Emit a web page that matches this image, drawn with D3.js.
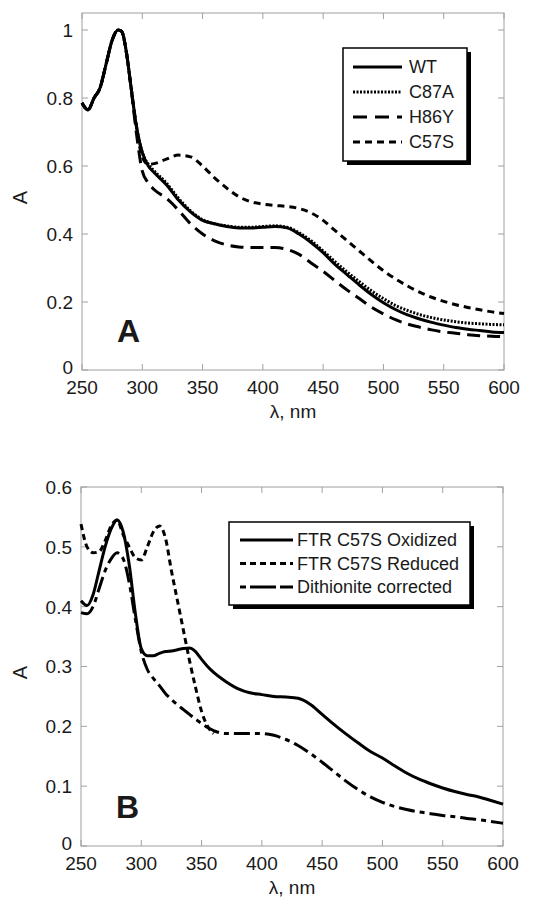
<!DOCTYPE html>
<html lang="en">
  <head>
    <meta charset="UTF-8" />
    <title>FTR spectra</title>
    <script src="https://cdn.jsdelivr.net/npm/d3@7/dist/d3.min.js"></script>
    <style>
      body { margin: 0; background: #fff; }
      text { font-family: "Liberation Sans", Arial, sans-serif; fill: #1a1a1a; }
      .frame { fill: none; stroke: #a0a0a0; stroke-width: 1; }
      .tick { stroke: #a0a0a0; stroke-width: 1; }
      .curve { fill: none; stroke: #000; stroke-width: 3; stroke-linejoin: round; }
    </style>
  </head>
  <body>
    <svg id="chart" width="541" height="900"></svg>
  <script>
    // ---- panel A data (wavelength nm, absorbance) ----
    const waveA = [250, 255, 260, 265, 270, 275, 280, 283, 287, 290, 295, 300, 305, 310, 320, 330, 340, 350, 360, 370,
      380, 390, 400, 410, 420, 430, 440, 450, 460, 470, 480, 490, 500, 510, 520, 530, 540, 550, 560, 570, 580, 590, 600];
    const wtA = [0.785, 0.765, 0.8, 0.83, 0.9, 0.97, 1.0, 0.995, 0.93, 0.85, 0.72, 0.64, 0.6, 0.58, 0.545, 0.5, 0.465, 0.44, 0.43, 0.422,
      0.418, 0.418, 0.42, 0.422, 0.418, 0.4, 0.375, 0.345, 0.31, 0.28, 0.25, 0.222, 0.198, 0.178, 0.162, 0.15, 0.14, 0.132, 0.125, 0.12, 0.116, 0.112, 0.11];
    const c87aA = [0.785, 0.765, 0.8, 0.83, 0.9, 0.97, 1.0, 0.995, 0.93, 0.85, 0.72, 0.64, 0.605, 0.585, 0.55, 0.505, 0.468, 0.442, 0.43, 0.424,
      0.42, 0.42, 0.422, 0.424, 0.42, 0.404, 0.38, 0.35, 0.318, 0.288, 0.26, 0.233, 0.21, 0.19, 0.175, 0.163, 0.154, 0.147, 0.142, 0.138, 0.136, 0.134, 0.133];
    const h86yA = [0.785, 0.765, 0.8, 0.83, 0.9, 0.97, 1.0, 0.995, 0.93, 0.85, 0.7, 0.585, 0.55, 0.53, 0.505, 0.47, 0.43, 0.4, 0.38, 0.368,
      0.362, 0.36, 0.36, 0.36, 0.355, 0.34, 0.315, 0.29, 0.262, 0.235, 0.21, 0.185, 0.165, 0.148, 0.135, 0.126, 0.118, 0.112, 0.108, 0.104, 0.101, 0.099, 0.098];
    const c57sA = [0.785, 0.765, 0.8, 0.83, 0.9, 0.97, 1.0, 0.995, 0.93, 0.85, 0.72, 0.625, 0.605, 0.607, 0.62, 0.632, 0.627, 0.6, 0.565, 0.535,
      0.51, 0.495, 0.488, 0.484, 0.481, 0.475, 0.462, 0.44, 0.41, 0.38, 0.35, 0.32, 0.292, 0.268, 0.247, 0.229, 0.214, 0.202, 0.192, 0.184, 0.177, 0.171, 0.166];
    const namesA = ["WT", "C87A", "H86Y", "C57S"];

    // ---- panel B data ----
    const waveB = [250, 255, 260, 265, 270, 275, 280, 285, 290, 295, 300, 305, 310, 315, 320, 325, 330, 335, 340, 345, 350, 355, 360,
      370, 380, 390, 400, 410, 420, 430, 440, 450, 460, 470, 480, 490, 500, 510, 520, 530, 540, 550, 560, 570, 580, 590, 600];
    const oxidizedB = [0.41, 0.402, 0.42, 0.46, 0.5, 0.53, 0.545, 0.525, 0.47, 0.39, 0.33, 0.318, 0.318, 0.322, 0.325, 0.326, 0.328, 0.33, 0.331, 0.325, 0.312, 0.3, 0.29,
      0.275, 0.263, 0.256, 0.253, 0.25, 0.249, 0.247, 0.237, 0.22, 0.203, 0.187, 0.172, 0.158, 0.147, 0.134, 0.122, 0.112, 0.104, 0.097, 0.091, 0.086, 0.082, 0.076, 0.07];
    // reduced spectrum stops at 360 nm
    const reducedB = [0.538, 0.5, 0.49, 0.492, 0.51, 0.535, 0.545, 0.52, 0.5, 0.482, 0.478, 0.5, 0.525, 0.535, 0.515, 0.46, 0.41, 0.36, 0.31, 0.265, 0.225, 0.2, 0.188];
    const dithioniteB = [0.39, 0.388, 0.4, 0.43, 0.46, 0.48, 0.49, 0.48, 0.44, 0.38, 0.325, 0.295, 0.28, 0.268, 0.255, 0.245, 0.236, 0.228, 0.22, 0.212, 0.205, 0.198, 0.193,
      0.188, 0.188, 0.188, 0.188, 0.185, 0.178, 0.168, 0.155, 0.14, 0.124, 0.108, 0.094, 0.082, 0.073, 0.066, 0.061, 0.057, 0.054, 0.051, 0.049, 0.046, 0.044, 0.041, 0.038];
    const namesB = ["FTR C57S Oxidized", "FTR C57S Reduced", "Dithionite corrected"];

    const xTicks = [250, 300, 350, 400, 450, 500, 550, 600];
    const yTicksA = [0, 0.2, 0.4, 0.6, 0.8, 1];
    const yTicksB = [0, 0.1, 0.2, 0.3, 0.4, 0.5, 0.6];

    const svg = d3.select("#chart");

    // draws one framed panel and returns its scales
    const drawPanel = (p) => {
      let g = svg.append("g");
      let x = d3.scaleLinear().domain([250, 600]).range([p.left, p.right]);
      let y = d3.scaleLinear().domain([0, p.yMax]).range([p.bottom, p.top]);

      g.append("rect").attr("class", "frame")
        .attr("x", p.left).attr("y", p.top)
        .attr("width", p.right - p.left).attr("height", p.bottom - p.top);

      // inward ticks on all four sides
      g.selectAll(".xb").data(xTicks).enter().append("line").attr("class", "tick")
        .attr("x1", (d) => x(d)).attr("x2", (d) => x(d))
        .attr("y1", p.bottom).attr("y2", p.bottom - 6);
      g.selectAll(".xt").data(xTicks).enter().append("line").attr("class", "tick")
        .attr("x1", (d) => x(d)).attr("x2", (d) => x(d))
        .attr("y1", p.top).attr("y2", p.top + 6);
      g.selectAll(".yl").data(p.yTicks).enter().append("line").attr("class", "tick")
        .attr("x1", p.left).attr("x2", p.left + 6)
        .attr("y1", (d) => y(d)).attr("y2", (d) => y(d));
      g.selectAll(".yr").data(p.yTicks).enter().append("line").attr("class", "tick")
        .attr("x1", p.right).attr("x2", p.right - 6)
        .attr("y1", (d) => y(d)).attr("y2", (d) => y(d));

      g.selectAll(".xl").data(xTicks).enter().append("text")
        .attr("x", (d) => x(d)).attr("y", p.bottom + 24)
        .attr("text-anchor", "middle").style("font-size", "19px")
        .text((d) => d);
      // the "0" label sits a little high so it clears the 250 below it
      g.selectAll(".ylab").data(p.yTicks).enter().append("text")
        .attr("x", p.left - 9).attr("y", (d) => (d === 0 ? y(d) - 3 : y(d))).attr("dy", "0.36em")
        .attr("text-anchor", "end").style("font-size", "19px")
        .text((d) => d);

      g.append("text").attr("x", (p.left + p.right) / 2).attr("y", p.bottom + 48)
        .attr("text-anchor", "middle").style("font-size", "19px").text("λ, nm");
      g.append("text")
        .attr("transform", `translate(27,${(p.top + p.bottom) / 2 + 6}) rotate(-90)`)
        .attr("text-anchor", "middle").style("font-size", "20px").text("A");
      g.append("text").attr("x", p.left + 35).attr("y", p.bottom - 28)
        .style("font-size", "32px").style("font-weight", "bold").text(p.letter);

      return { g, x, y };
    };

    const drawCurves = (panel, waves, series) => {
      let line = d3.line()
        .x((d) => panel.x(d[0]))
        .y((d) => panel.y(d[1]))
        .curve(d3.curveMonotoneX);
      panel.g.selectAll(".curve").data(series).enter().append("path")
        .attr("class", "curve")
        .attr("stroke-dasharray", (s) => s.dash)
        .attr("stroke-width", (s) => s.width || 3)
        .attr("d", (s) => line(s.values.map((v, i) => [waves[i], v])));
    };

    const drawLegend = (panel, box, series) => {
      let lg = panel.g.append("g");
      // drop shadow then box
      lg.append("rect").attr("x", box.x + 4).attr("y", box.y + 4)
        .attr("width", box.w).attr("height", box.h).attr("fill", "#000");
      lg.append("rect").attr("x", box.x).attr("y", box.y)
        .attr("width", box.w).attr("height", box.h)
        .attr("fill", "#fff").attr("stroke", "#000").attr("stroke-width", 1.5);
      series.forEach((s, i) => {
        let yy = box.y + box.first + i * box.step;
        lg.append("line").attr("class", "curve")
          .attr("x1", box.x + box.lx1).attr("x2", box.x + box.lx2)
          .attr("y1", yy).attr("y2", yy)
          .attr("stroke-dasharray", s.legendDash || s.dash)
          .attr("stroke-width", s.width || 3);
        lg.append("text").attr("x", box.x + box.tx).attr("y", yy).attr("dy", "0.36em")
          .style("font-size", "18px").text(s.name);
      });
    };

    // ---- panel A ----
    let pA = drawPanel({ left: 82, right: 504, top: 13, bottom: 370, yMax: 1.05, yTicks: yTicksA, letter: "A" });
    let seriesA = [
      { name: namesA[0], values: wtA, dash: null, width: 3.2 },
      { name: namesA[1], values: c87aA, dash: "2,1.5", width: 3 },
      { name: namesA[2], values: h86yA, dash: "13,7", legendDash: "14,8", width: 3.2 },
      { name: namesA[3], values: c57sA, dash: "7,5", width: 3.2 }
    ];
    drawCurves(pA, waveA, seriesA);
    drawLegend(pA, { x: 343, y: 48, w: 124, h: 113, first: 19, step: 25, lx1: 10, lx2: 59, tx: 66 }, seriesA);

    // ---- panel B ----
    let pB = drawPanel({ left: 81, right: 503, top: 487, bottom: 846, yMax: 0.6, yTicks: yTicksB, letter: "B" });
    let seriesB = [
      { name: namesB[0], values: oxidizedB, dash: null },
      { name: namesB[1], values: reducedB, dash: "6,4" },
      { name: namesB[2], values: dithioniteB, dash: "16,5,5,5", legendDash: "6,4,20,0" }
    ];
    drawCurves(pB, waveB, seriesB);
    drawLegend(pB, { x: 229, y: 522, w: 241, h: 83, first: 18, step: 23.5, lx1: 11, lx2: 64, tx: 68 }, seriesB);
  </script>
  </body>
</html>
